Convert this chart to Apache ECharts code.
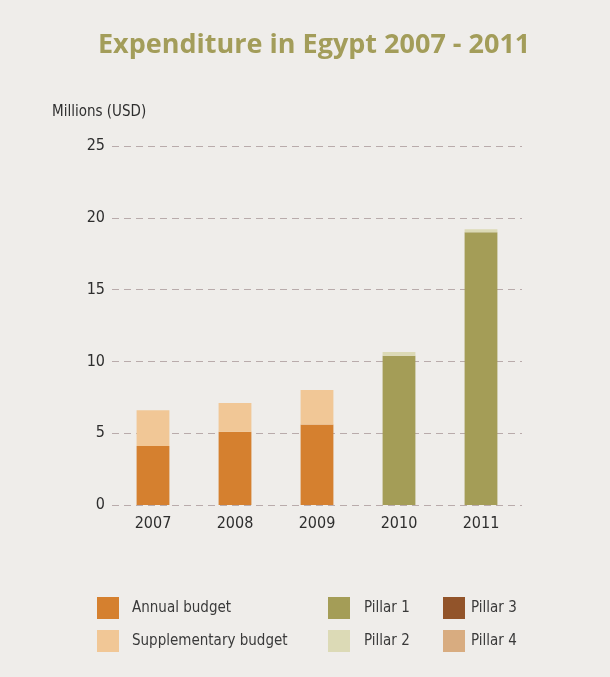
<!DOCTYPE html>
<html><head><meta charset="utf-8">
<script src="https://cdn.jsdelivr.net/npm/echarts@6/dist/echarts.min.js"></script>
<style>html,body{margin:0;padding:0;background:#efedea}#c{width:610px;height:677px}</style>
</head><body><div id="c"></div>
<script>
var years = ['2007','2008','2009','2010','2011'];
var annualBudget = [4.1, 5.1, 5.6, null, null];
var supplementaryBudget = [2.5, 2.0, 2.4, null, null];
var pillar1 = [null, null, null, 10.4, 19.0];
var pillar2 = [null, null, null, 0.25, 0.2];
var pillar3 = [null, null, null, null, null];
var pillar4 = [null, null, null, null, null];
var yTicks = [0, 5, 10, 15, 20, 25];

var FONT = '"DejaVu Sans Condensed", "Liberation Sans", sans-serif';
var colors = {
  'Annual budget': '#d5802f',
  'Supplementary budget': '#f1c796',
  'Pillar 1': '#a49d57',
  'Pillar 2': '#dcdab6',
  'Pillar 3': '#92542a',
  'Pillar 4': '#d8ac80'
};
function mk(name, data) {
  return {name: name, type: 'bar', stack: 'total', data: data, barWidth: '40%',
    itemStyle: {color: colors[name]}, emphasis: {disabled: true}};
}
function lg(left, data, gap) {
  return {orient: 'vertical', left: left, top: 592, data: data, icon: 'rect',
    itemWidth: 22, itemHeight: 22, itemGap: 11, itemStyle: {borderWidth: 0},
    textStyle: {fontFamily: FONT, fontSize: 15, color: '#3a3a3a', padding: [0, 0, 0, gap]},
    selectedMode: false};
}
var chart = echarts.init(document.getElementById('c'));
chart.setOption({
  backgroundColor: '#efedea',
  animation: false,
  title: {text: 'Expenditure in Egypt 2007 - 2011', left: 93, top: 27,
    textStyle: {fontFamily: '"Open Sans", sans-serif', fontWeight: 'bold', fontSize: 27, color: '#a39d5a'}},
  legend: [
    lg(92, ['Annual budget', 'Supplementary budget'], 8),
    lg(323, ['Pillar 1', 'Pillar 2'], 9),
    lg(438, ['Pillar 3', 'Pillar 4'], 1)
  ],
  grid: {left: 112, right: 88, top: 146, bottom: 172},
  xAxis: {type: 'category', data: years,
    axisLine: {show: false}, axisTick: {show: false},
    axisLabel: {fontFamily: FONT, fontSize: 16, color: '#2e2e2e', margin: 11}},
  yAxis: {type: 'value', min: yTicks[0], max: yTicks[yTicks.length - 1], interval: 5,
    name: 'Millions (USD)', nameLocation: 'end', nameGap: 26,
    nameTextStyle: {fontFamily: FONT, fontSize: 15, color: '#2e2e2e', align: 'left', padding: [0, 0, 0, -60]},
    axisLabel: {fontFamily: FONT, fontSize: 16, color: '#2e2e2e', margin: 7},
    splitLine: {lineStyle: {type: [7, 5], color: '#b9abab', width: 1}}},
  series: [
    mk('Annual budget', annualBudget),
    mk('Supplementary budget', supplementaryBudget),
    mk('Pillar 1', pillar1),
    mk('Pillar 2', pillar2),
    mk('Pillar 3', pillar3),
    mk('Pillar 4', pillar4)
  ]
});
</script></body></html>
